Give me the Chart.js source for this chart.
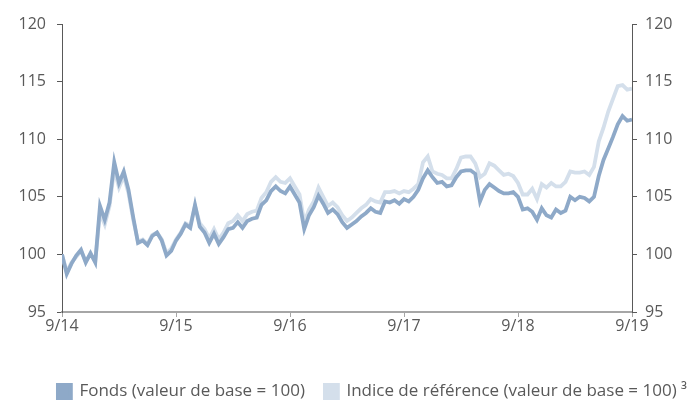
<!DOCTYPE html>
<html>
<head>
<meta charset="utf-8">
<script src="https://cdn.jsdelivr.net/npm/chart.js@4.4.1/dist/chart.umd.min.js"></script>
<style>
  html, body { margin: 0; padding: 0; background: #fff; }
  #wrap { width: 689px; height: 401px; }
</style>
</head>
<body>
<div id="wrap"><canvas id="chart" width="689" height="401"></canvas></div>
<script>
// one value every half month, from 9/14 to 9/19
const fondsValues = [
  100.0, 98.3, 99.2, 99.9, 100.4, 99.3, 100.1, 99.3, 104.2, 103.0, 104.5, 108.0, 106.2, 107.2, 105.6, 103.2, 101.0, 101.2, 100.8, 101.6, 101.9, 101.2, 99.9, 100.3, 101.2,
  101.8, 102.6, 102.3, 104.3, 102.4, 101.9, 101.0, 101.8, 100.9, 101.5, 102.2, 102.3, 102.8, 102.3, 102.9, 103.1, 103.2, 104.3, 104.7, 105.5, 105.9, 105.5, 105.3, 105.9,
  105.2, 104.5, 102.2, 103.4, 104.1, 105.1, 104.4, 103.6, 103.9, 103.5, 102.8, 102.3, 102.6, 102.9, 103.3, 103.6, 104.0, 103.7, 103.6, 104.6, 104.5, 104.7, 104.4, 104.8,
  104.6, 105.0, 105.6, 106.6, 107.3, 106.7, 106.2, 106.3, 105.9, 106.0, 106.7, 107.2, 107.3, 107.3, 107.0, 104.6, 105.6, 106.1, 105.8, 105.5, 105.3, 105.3, 105.4, 105.0,
  103.9, 104.0, 103.7, 103.0, 104.0, 103.4, 103.2, 103.9, 103.6, 103.8, 105.0, 104.7, 105.0, 104.9, 104.6, 105.0, 106.8, 108.2, 109.2, 110.2, 111.3, 112.0, 111.6, 111.7
];
const indiceValues = [
  100.0, 98.5, 99.3, 99.8, 100.3, 99.4, 100.0, 99.4, 103.6, 102.6, 104.2, 107.4, 105.8, 106.8, 105.3, 103.0, 101.1, 101.3, 100.9, 101.7, 101.9, 101.3, 100.1, 100.5, 101.3,
  101.9, 102.7, 102.5, 104.2, 102.7, 102.2, 101.4, 102.2, 101.3, 101.9, 102.7, 102.9, 103.4, 102.9, 103.5, 103.7, 103.8, 104.9, 105.4, 106.3, 106.7, 106.3, 106.2, 106.6,
  105.9, 105.2, 102.8, 103.9, 104.6, 105.8, 105.0, 104.2, 104.5, 104.1, 103.4, 102.9, 103.2, 103.6, 104.0, 104.3, 104.8, 104.6, 104.5, 105.4, 105.4, 105.5, 105.3, 105.5,
  105.4, 105.7, 106.1, 108.0, 108.5, 107.2, 107.0, 106.9, 106.6, 106.6, 107.4, 108.4, 108.5, 108.5, 107.9, 106.7, 107.0, 107.9, 107.7, 107.3, 106.9, 107.0, 106.8, 106.2,
  105.2, 105.2, 105.7, 104.8, 106.1, 105.8, 106.2, 105.9, 105.9, 106.3, 107.2, 107.1, 107.1, 107.2, 106.9, 107.6, 109.8, 111.0, 112.4, 113.5, 114.6, 114.7, 114.3, 114.4
];
const tickLabels = ['9/14', '9/15', '9/16', '9/17', '9/18', '9/19'];
const seriesNames = ['Fonds (valeur de base = 100)', 'Indice de référence (valeur de base = 100) ³'];

const textColor = '#595959';
const fontFamily = '"Open Sans", Lato, sans-serif';

//x in months since 9/14
const toPoints = (arr) => arr.map((v, i) => ({x: i / 2, y: v}));

const yScale = (pos) => ({
  type: 'linear',
  position: pos,
  min: 95,
  max: 120,
  // right one is wider to make up for the negative right padding
  afterFit: (s) => { s.width = pos === 'left' ? 62 : 75; },
  ticks: {stepSize: 5, color: textColor, font: {family: fontFamily, size: 16}, padding: pos === 'left' ? 11 : 8},
  grid: {drawOnChartArea: false, drawTicks: true, tickLength: 5, color: '#595959'},
  border: {color: '#595959', width: 1}
});

new Chart(document.getElementById('chart'), {
  type: 'line',
  data: {
    datasets: [
      {
        label: seriesNames[0],
        data: toPoints(fondsValues),
        borderColor: '#8ea9c8',
        backgroundColor: '#8ea9c8',
        borderWidth: 3.8,
        pointRadius: 0,
        yAxisID: 'y'
      },
      {
        label: seriesNames[1],
        data: toPoints(indiceValues),
        borderColor: '#d4dfeb',
        backgroundColor: '#d4dfeb',
        borderWidth: 3.8,
        pointRadius: 0,
        yAxisID: 'y'
      }
    ]
  },
  options: {
    responsive: false,
    animation: false,
    //legend sits low and far right, almost on the edges
    layout: {padding: {top: 24, left: 0, right: -18, bottom: -9}},
    plugins: {
      tooltip: {enabled: false},
      legend: {
        position: 'bottom',
        align: 'end',
        labels: {
          color: textColor,
          font: {family: fontFamily, size: 17},
          boxWidth: 13,
          boxHeight: 13,
          padding: 20,
          useBorderRadius: false
        }
      }
    },
    scales: {
      x: {
        type: 'linear',
        min: 0,
        max: 60,
        afterFit: (s) => { s.height = 51; },
        ticks: {
          stepSize: 12,
          color: textColor,
          font: {family: fontFamily, size: 16},
          padding: 0,
          callback: (v) => tickLabels[v / 12]
        },
        grid: {drawOnChartArea: false, drawTicks: true, tickLength: 5, color: '#a6a6a6'},
        border: {color: '#a6a6a6', width: 2}
      },
      y: yScale('left'),
      y2: yScale('right')
    }
  }
});
</script>
</body>
</html>
